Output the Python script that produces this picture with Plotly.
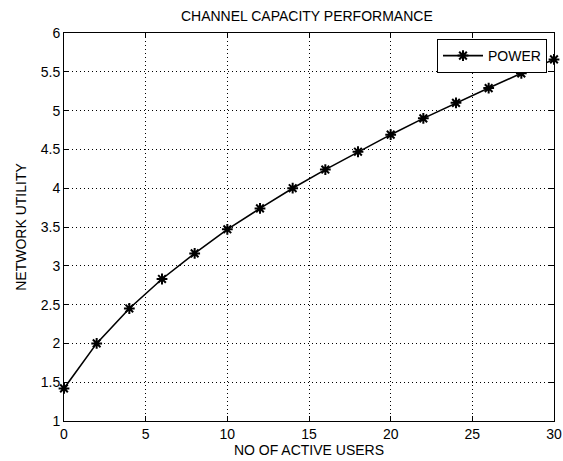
import plotly.graph_objects as go

users = [0, 2, 4, 6, 8, 10, 12, 14, 16, 18, 20, 22, 24, 26, 28, 30]
utility = [1.42, 2.00, 2.45, 2.83, 3.16, 3.47, 3.74, 4.00, 4.24, 4.47, 4.69, 4.90, 5.10, 5.29, 5.48, 5.66]
x_ticks = [0, 5, 10, 15, 20, 25, 30]
y_ticks = [1, 1.5, 2, 2.5, 3, 3.5, 4, 4.5, 5, 5.5, 6]
y_tick_text = ["1", "1.5", "2", "2.5", "3", "3.5", "4", "4.5", "5", "5.5", "6"]

font_family = "Liberation Sans, Arial, sans-serif"

fig = go.Figure()
fig.add_trace(go.Scatter(
    x=users, y=utility, mode="lines+markers", name="POWER",
    line=dict(color="black", width=1.6),
    marker=dict(symbol="asterisk-open", size=9, color="black",
                line=dict(color="black", width=2)),
    cliponaxis=False,
))

axis_common = dict(
    showline=True, linecolor="black", linewidth=1, mirror="ticks",
    ticks="inside", ticklen=5, tickcolor="black", tickwidth=1,
    showgrid=True, gridcolor="black", gridwidth=1, griddash="1px,3px",
    zeroline=False, automargin=False,
    tickfont=dict(family=font_family, size=14, color="black"),
)

fig.update_layout(
    width=563, height=461,
    margin=dict(l=64, r=9, t=33, b=40),
    paper_bgcolor="white", plot_bgcolor="white",
    title=dict(text="CHANNEL CAPACITY PERFORMANCE", x=0.545, xanchor="center",
               y=1 - 16 / 461, yanchor="middle",
               font=dict(family=font_family, size=14, color="black")),
    xaxis=dict(range=[0, 30], tickvals=x_ticks,
               title=dict(text="NO OF ACTIVE USERS", standoff=2,
                          font=dict(family=font_family, size=14, color="black")),
               **axis_common),
    yaxis=dict(range=[1, 6], tickvals=y_ticks, ticktext=y_tick_text,
               title=dict(text="NETWORK UTILITY", standoff=10,
                          font=dict(family=font_family, size=14, color="black")),
               **axis_common),
    showlegend=True,
    legend=dict(x=0.9857, y=0.9845, xanchor="right", yanchor="top",
                bgcolor="white", bordercolor="black", borderwidth=1,
                font=dict(family=font_family, size=14, color="black"),
                itemwidth=40, tracegroupgap=0),
)

fig.write_html("out.html")
